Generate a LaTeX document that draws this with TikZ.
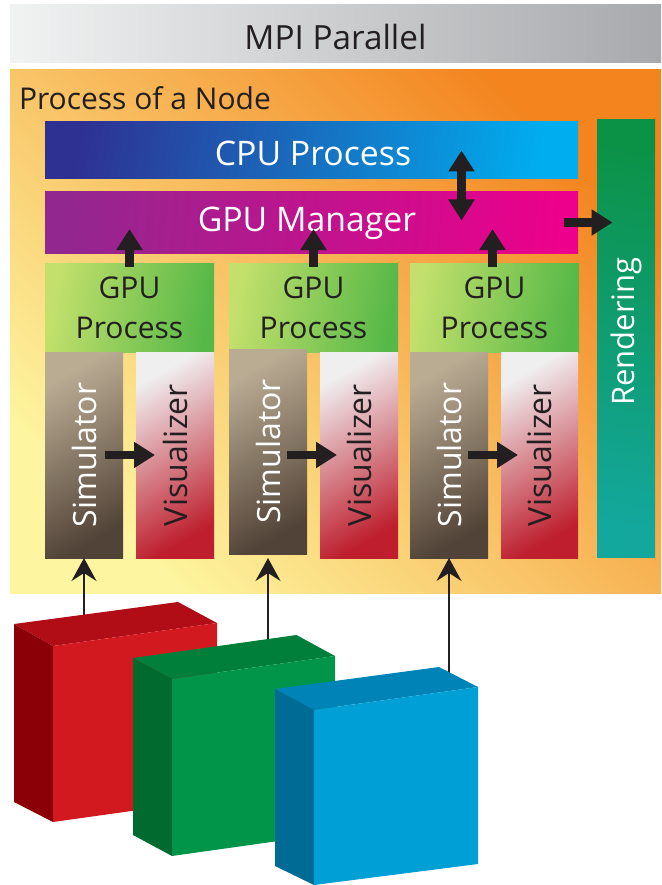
\documentclass[tikz,border=0pt]{standalone}
\usepackage{fontspec}
\setmainfont{Open Sans}
\usetikzlibrary{arrows.meta}

\definecolor{ink}{HTML}{231F20}
\definecolor{mpiL}{HTML}{F1F2F2}
\definecolor{mpiR}{HTML}{A7A9AC}
\definecolor{nodeLo}{HTML}{FDF59F}
\definecolor{nodeMid}{HTML}{FBC067}
\definecolor{nodeHi}{HTML}{F3841E}
\definecolor{cpuL}{HTML}{2E3192}
\definecolor{cpuM}{HTML}{0060AE}
\definecolor{cpuR}{HTML}{00AEEF}
\definecolor{mgrL}{HTML}{92278F}
\definecolor{mgrM}{HTML}{BE1A8E}
\definecolor{mgrR}{HTML}{EC008C}
\definecolor{gpL}{HTML}{C4E06C}
\definecolor{gpM}{HTML}{8DC84E}
\definecolor{gpR}{HTML}{56B847}
\definecolor{simT}{HTML}{BAAC93}
\definecolor{simM}{HTML}{85786A}
\definecolor{simB}{HTML}{524338}
\definecolor{visT}{HTML}{F0EFF0}
\definecolor{visM}{HTML}{D68275}
\definecolor{visB}{HTML}{BE1E2D}
\definecolor{rendT}{HTML}{0C9247}
\definecolor{rendB}{HTML}{13A89E}
\definecolor{redTop}{HTML}{B00D16}
\definecolor{redFront}{HTML}{D2191F}
\definecolor{redSide}{HTML}{8A0006}
\definecolor{grnTop}{HTML}{007F3B}
\definecolor{grnFront}{HTML}{009548}
\definecolor{grnSide}{HTML}{006A2F}
\definecolor{bluTop}{HTML}{0084B8}
\definecolor{bluFront}{HTML}{009FD6}
\definecolor{bluSide}{HTML}{006B94}

\begin{document}
\begin{tikzpicture}[x=1pt,y=-1pt,
  every node/.style={inner sep=0pt,outer sep=0pt},
  panel/.style={anchor=north west},
  bigtxt/.style={font=\fontsize{33.8}{40}\selectfont},
  midtxt/.style={font=\fontsize{30}{40}\selectfont},
  sidetxt/.style={font=\fontsize{32}{36}\selectfont},
  stagebox/.style={panel,align=center,minimum width=169pt,minimum height=89pt,
    left color=gpL,middle color=gpM,right color=gpR,shading angle=80,
    text=ink,midtxt},
  simbox/.style={panel,minimum width=78pt,minimum height=206pt,
    top color=simT,middle color=simM,bottom color=simB,shading angle=30,
    text=white,sidetxt},
  visbox/.style={panel,minimum width=78pt,minimum height=206pt,
    top color=visT,middle color=visM,bottom color=visB,shading angle=30,
    text=ink,sidetxt},
  fat/.style={draw=ink,line width=8.5pt,-{Triangle[width=25pt,length=21pt]}},
  fatboth/.style={draw=ink,line width=8.5pt,
    {Triangle[width=25pt,length=21pt]}-{Triangle[width=25pt,length=21pt]}},
  wire/.style={draw=ink,line width=1.6pt,-{Stealth[width=25pt,length=23pt,inset=8pt]}},
]
\useasboundingbox (0,0) rectangle (661,885);

% outer bands
\node[panel,minimum width=651pt,minimum height=58pt,
      left color=mpiL,right color=mpiR,text=ink,
      text height=32pt,text depth=0pt,
      font=\fontsize{33.3}{40}\selectfont] (mpi) at (10,5) {MPI Parallel};
\node[panel,minimum width=651pt,minimum height=523pt,
      bottom color=nodeLo,middle color=nodeMid,top color=nodeHi,
      shading angle=-45] (proc) at (10,70) {};
\node[anchor=base west,text=ink,font=\fontsize{30}{36}\selectfont]
      (proctitle) at (19,110) {Process of a Node};

% process bars
\node[panel,minimum width=533pt,minimum height=57pt,
      left color=cpuL,middle color=cpuM,right color=cpuR,shading angle=80,
      text height=30.4pt,text depth=0pt,
      text=white,bigtxt] (cpu) at (45,122) {CPU Process\hspace*{-3pt}};
\node[panel,minimum width=533pt,minimum height=61pt,
      left color=mgrL,middle color=mgrM,right color=mgrR,shading angle=85,
      text height=18.4pt,text depth=0pt,
      text=white,bigtxt] (mgr) at (45,192) {GPU Manager\hspace*{9pt}};
\node[panel,minimum width=58pt,minimum height=437pt,
      top color=rendT,bottom color=rendB,shading angle=-10,
      text=white,font=\fontsize{31}{36}\selectfont] (rend) at (597,120)
      {\rotatebox{90}{\hspace*{14pt}Rendering}};

% GPU stages
\node[stagebox] (gp1) at (45,263)  {GPU\\Process};
\node[stagebox] (gp2) at (229,263) {GPU\\Process};
\node[stagebox] (gp3) at (410,263) {GPU\\Process};

\node[simbox] (sim1) at (45,352)  {\rotatebox{90}{Simulator}};
\node[visbox] (vis1) at (136,352) {\rotatebox{90}{Visualizer}};
\node[simbox,minimum height=205pt] (sim2) at (229,349) {\rotatebox{90}{Simulator}};
\node[visbox] (vis2) at (320,352) {\rotatebox{90}{Visualizer}};
\node[simbox] (sim3) at (410,352) {\rotatebox{90}{Simulator}};
\node[visbox,minimum width=77pt] (vis3) at (501,352) {\rotatebox{90}{Visualizer}};

% data flow inside the node
\draw[fat] ([xshift=-18.5pt]sim1.east) -- ([xshift=19pt]vis1.west);
\draw[fat] ([xshift=-20pt]sim2.east |- vis2.west) -- ([xshift=17pt]vis2.west);
\draw[fat] ([xshift=-20pt]sim3.east) -- ([xshift=17pt]vis3.west);

\draw[fat] ([yshift=-4pt]gp1.north) -- ([yshift=24pt]gp1.north |- mgr.south);
\draw[fat] ([yshift=-4pt]gp2.north) -- ([yshift=24pt]gp2.north |- mgr.south);
\draw[fat] ([xshift=-2pt,yshift=-4pt]gp3.north) -- ([xshift=-2pt,yshift=24pt]gp3.north |- mgr.south);

\draw[fatboth] ([xshift=150pt]cpu.center) -- ([xshift=150pt,yshift=2pt]mgr.center);
\draw[fat] ([xshift=-14.5pt]mgr.east) -- ([xshift=15.5pt]rend.west |- mgr.east);

% input data sets
\coordinate (redtop) at (84,615);
\coordinate (grntop) at (268,639);
\coordinate (blutop) at (449,672.5);
\draw[wire] (redtop) -- (sim1.south);
\draw[wire] (grntop) -- (sim2.south |- sim1.south);
\draw[wire] (blutop) -- (sim3.south);

% red block
\fill[redTop]   (14,624) -- (178,602) -- (217,623) -- (53,646) -- cycle;
\fill[redSide]  (14,624) -- (53,646) -- (53,822) -- (14,802) -- cycle;
\fill[redFront] (53,646) -- (217,623) -- (217,799) -- (53,822) -- cycle;
% green block
\fill[grnTop]   (133,658) -- (296.5,635) -- (335,656) -- (172,679) -- cycle;
\fill[grnSide]  (133,658) -- (172,679) -- (172,856) -- (133,835) -- cycle;
\fill[grnFront] (172,679) -- (335,656) -- (335,833) -- (172,856) -- cycle;
% blue block
\fill[bluTop]   (275,689) -- (439,667) -- (478,687) -- (314,710) -- cycle;
\fill[bluSide]  (275,689) -- (314,710) -- (314,885) -- (275,866) -- cycle;
\fill[bluFront] (314,710) -- (478,687) -- (478,864) -- (314,885) -- cycle;
\end{tikzpicture}
\end{document}
